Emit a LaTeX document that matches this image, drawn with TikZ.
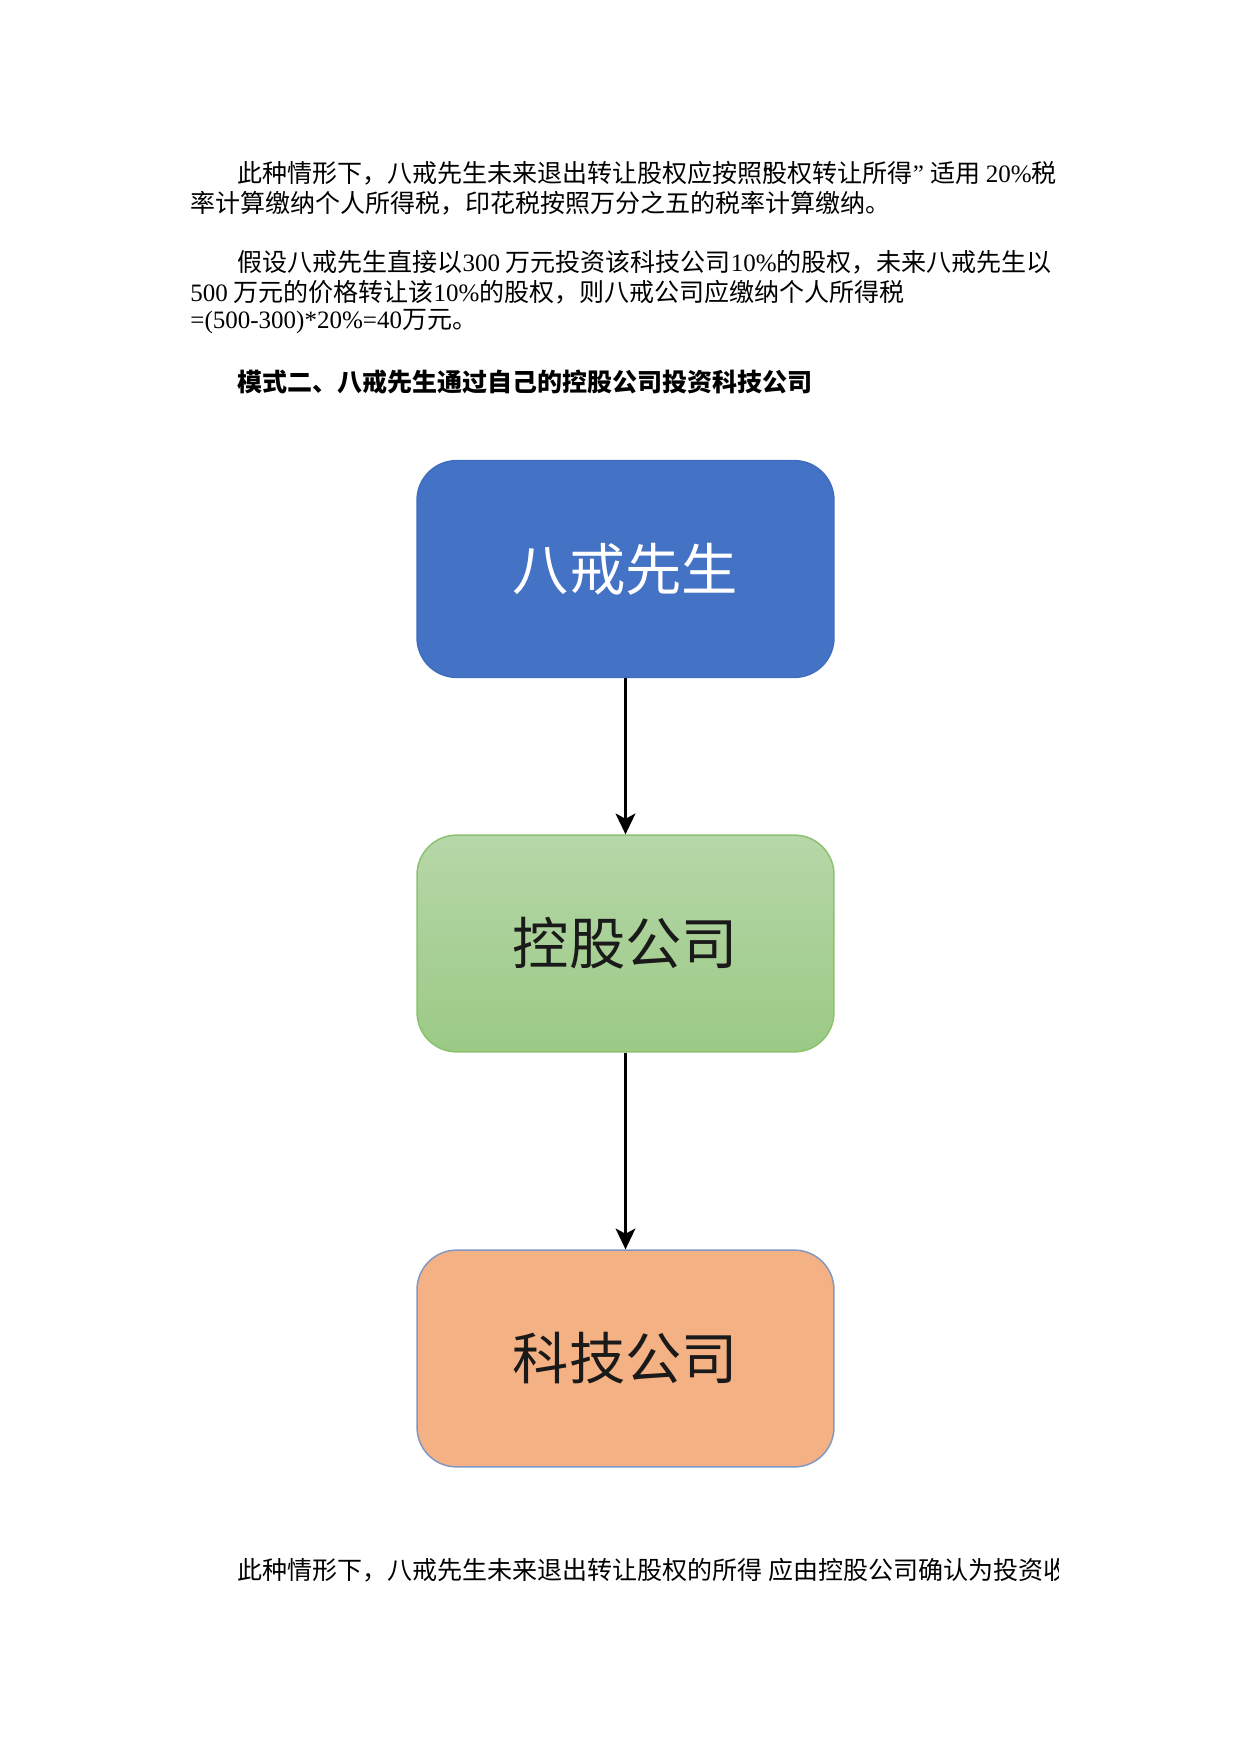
\documentclass[tikz,border=0pt]{standalone}
\usepackage{fontspec}
\setmainfont{Liberation Serif}
\newfontfamily\cjk{Noto Sans CJK SC}
\newfontfamily\lat{Liberation Serif}
\usetikzlibrary{arrows.meta}
\definecolor{boxblue}{HTML}{4472C4}
\definecolor{boxblueline}{HTML}{3F6DC0}
\definecolor{greentop}{HTML}{B6D7A8}
\definecolor{greenbot}{HTML}{9BCA85}
\definecolor{greenline}{HTML}{8CC26F}
\definecolor{orangefill}{HTML}{F4B183}
\definecolor{orangeline}{HTML}{8097C4}
\definecolor{labeldark}{HTML}{1A1A1A}
\begin{document}
\begin{tikzpicture}[x=0.4797pt,y=-0.4797pt,
  bodytext/.style={anchor=west, inner sep=0pt, text=black, font=\cjk\fontsize{12}{14}\selectfont},
  headtext/.style={bodytext, font=\cjk\bfseries\fontsize{12}{14}\selectfont},
  flowbox/.style={rounded corners=19pt, minimum width=200pt, minimum height=104pt,
    line width=0.7pt, inner sep=0pt, font=\cjk\fontsize{27}{30}\selectfont},
  conn/.style={line width=1.2pt, -{Stealth[length=10pt,width=9.5pt,inset=2.5pt]}}
]
\useasboundingbox[fill=white] (0,0) rectangle (1241,1754);

% paragraph texts
\node[bodytext] (p1a) at (237,173) {此种情形下，八戒先生未来退出转让股权应按照{\lat\rlap{“}}股权转让所得{\lat ” }适用 {\lat 20\%}税};
\node[bodytext] (p1b) at (190,203) {率计算缴纳个人所得税，印花税按照万分之五的税率计算缴纳。};
\node[bodytext] (p2a) at (237,262) {假设八戒先生直接以{\lat 300} 万元投资该科技公司{\lat 10\%}的股权，未来八戒先生以};
\node[bodytext] (p2b) at (190,292) {{\lat 500} 万元的价格转让该{\lat 10\%}的股权，则八戒公司应缴纳个人所得税};
\node[bodytext] (p2c) at (190,322) {{\lat =(500-300)*20\%=40}万元。};
\node[headtext] (head) at (237,382) {模式二、八戒先生通过自己的控股公司投资科技公司};

% flow boxes
\node[flowbox, fill=boxblue, draw=boxblueline, text=white] (mr) at (625.5,569) {八戒先生};
\node[flowbox, top color=greentop, bottom color=greenbot, draw=greenline, text=labeldark] (hold) at (625.5,943.5) {控股公司};
\node[flowbox, fill=orangefill, draw=orangeline, text=labeldark] (tech) at (625.5,1358.5) {科技公司};

\draw[conn] (mr.south) -- (hold.north);
\draw[conn] (hold.south) -- (tech.north);

% bottom text, clipped at the right edge
\begin{scope}
\clip (0,1520) rectangle (1058,1620);
\node[bodytext] (p3) at (237,1570) {此种情形下，八戒先生未来退出转让股权的所得 应由控股公司确认为投资收益};
\end{scope}
\end{tikzpicture}
\end{document}
